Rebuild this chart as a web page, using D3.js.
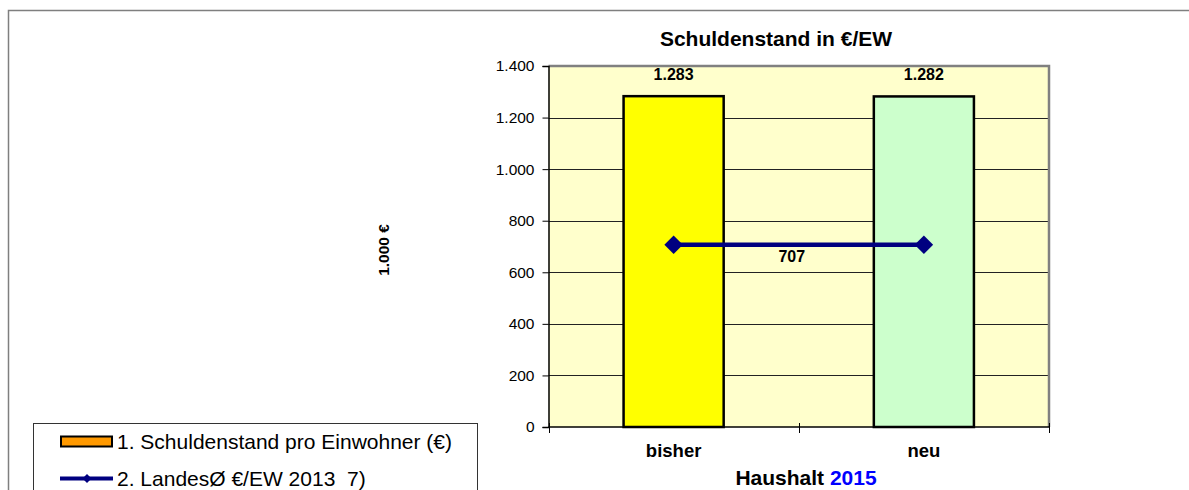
<!DOCTYPE html>
<html>
<head>
<meta charset="utf-8">
<script src="https://cdn.jsdelivr.net/npm/d3@7"></script>
<style>
html,body{margin:0;padding:0;background:#fff;}
svg{display:block;font-family:"Liberation Sans",Arial,sans-serif;}
text{white-space:pre;}
</style>
</head>
<body>
<svg id="chart" width="1189" height="490"></svg>
<script>
const categories = ["bisher", "neu"];
const debtPerCapita = [1283, 1282];
const stateAverage = [707, 707];
const yTickValues = [0, 200, 400, 600, 800, 1000, 1200, 1400];
const barColors = ["#FFFF00", "#CCFFCC"];
const chartTitle = "Schuldenstand in €/EW";
const yAxisTitle = "1.000 €";
const xAxisTitle = "Haushalt";
const xAxisYear = "2015";
const legendLabels = ["1. Schuldenstand pro Einwohner (€)", "2. LandesØ €/EW 2013  7)"];

const de = d3.formatLocale({decimal: ",", thousands: ".", grouping: [3], currency: ["", "€"]});
const fmt = de.format(",d");

const svg = d3.select("#chart");
const W = 1189, H = 490;
const plot = {left: 548.5, right: 1049, top: 66, bottom: 427};

// outer frame
svg.append("path")
  .attr("d", `M8.5,${H + 5} L8.5,10.5 L${W + 5},10.5`)
  .attr("fill", "none").attr("stroke", "#7f7f7f").attr("stroke-width", 1.5);

const x = d3.scaleBand().domain(categories).range([plot.left, plot.right]).padding(0);
const y = d3.scaleLinear().domain([0, 1400]).range([plot.bottom, plot.top]);
const barW = x.bandwidth() * 0.4;

// plot background
svg.append("rect")
  .attr("x", plot.left).attr("y", plot.top)
  .attr("width", plot.right - plot.left).attr("height", plot.bottom - plot.top)
  .attr("fill", "#FFFFCC");

// gridlines
svg.append("g").selectAll("line").data(yTickValues.filter(d => d > 0 && d < 1400)).join("line")
  .attr("x1", plot.left).attr("x2", plot.right)
  .attr("y1", d => Math.round(y(d)) + 0.5).attr("y2", d => Math.round(y(d)) + 0.5)
  .attr("stroke", "#222").attr("stroke-width", 1);

// plot border top/right
svg.append("path")
  .attr("d", `M${plot.left},${plot.top} L${plot.right},${plot.top} L${plot.right},${plot.bottom}`)
  .attr("fill", "none").attr("stroke", "#808080").attr("stroke-width", 2.5);

// bars
svg.append("g").selectAll("rect").data(categories).join("rect")
  .attr("x", d => x(d) + (x.bandwidth() - barW) / 2)
  .attr("y", (d, i) => y(debtPerCapita[i]))
  .attr("width", barW)
  .attr("height", (d, i) => y(0) - y(debtPerCapita[i]))
  .attr("fill", (d, i) => barColors[i])
  .attr("stroke", "#000").attr("stroke-width", 2.5);

// bar labels
svg.append("g").selectAll("text").data(categories).join("text")
  .attr("x", d => x(d) + x.bandwidth() / 2)
  .attr("y", (d, i) => y(debtPerCapita[i]) - 16)
  .attr("text-anchor", "middle")
  .attr("font-size", "16px").attr("font-weight", "bold")
  .text((d, i) => fmt(debtPerCapita[i]));

// y axis
const yAxis = d3.axisLeft(y).tickValues(yTickValues).tickSize(6).tickPadding(8)
  .tickFormat(d => fmt(d));
const gy = svg.append("g").attr("transform", `translate(${plot.left},0)`).call(yAxis);
gy.select(".domain").attr("stroke", "#000").attr("stroke-width", 1.5);
gy.selectAll(".tick line").attr("stroke", "#000");
gy.selectAll(".tick text").attr("font-size", "15.5px").attr("fill", "#000")
  .attr("font-family", "'Liberation Sans',Arial,sans-serif");

// x axis
const xBoundary = d3.scaleOrdinal().domain(["a", "b", "c"]).range([plot.left, plot.left + x.bandwidth(), plot.right]);
const gx = svg.append("g").attr("transform", `translate(0,${plot.bottom})`);
gx.append("line").attr("x1", plot.left).attr("x2", plot.right)
  .attr("stroke", "#000").attr("stroke-width", 1.5);
gx.selectAll("line.tk").data(xBoundary.domain()).join("line").attr("class", "tk")
  .attr("x1", d => Math.round(xBoundary(d)) + 0.5).attr("x2", d => Math.round(xBoundary(d)) + 0.5)
  .attr("y1", -4).attr("y2", 6).attr("stroke", "#000");
gx.selectAll("text").data(categories).join("text")
  .attr("x", d => x(d) + x.bandwidth() / 2).attr("y", 30)
  .attr("text-anchor", "middle").attr("font-size", "18.5px").attr("font-weight", "bold")
  .text(d => d);

// line series
const lineGen = d3.line().x((d, i) => x(categories[i]) + x.bandwidth() / 2).y(d => y(d));
svg.append("path").datum(stateAverage).attr("d", lineGen)
  .attr("fill", "none").attr("stroke", "#000080").attr("stroke-width", 4.5);
svg.append("g").selectAll("path").data(stateAverage).join("path")
  .attr("transform", (d, i) => `translate(${x(categories[i]) + x.bandwidth() / 2},${y(d)}) rotate(45)`)
  .attr("d", d3.symbol().type(d3.symbolSquare).size(170))
  .attr("fill", "#000080");
svg.append("text")
  .attr("x", (x(categories[0]) + x(categories[1]) + x.bandwidth()) / 2 - 7)
  .attr("y", y(stateAverage[0]) + 17)
  .attr("text-anchor", "middle").attr("font-size", "16px").attr("font-weight", "bold")
  .text(fmt(stateAverage[0]));

// titles
svg.append("text").attr("x", 776).attr("y", 46).attr("text-anchor", "middle")
  .attr("font-size", "21px").attr("font-weight", "bold").text(chartTitle);
svg.append("text").attr("transform", "translate(389,250) rotate(-90)").attr("text-anchor", "middle")
  .attr("font-size", "15.5px").attr("font-weight", "bold").text(yAxisTitle);
const xt = svg.append("text").attr("x", 806).attr("y", 485).attr("text-anchor", "middle")
  .attr("font-size", "21px").attr("font-weight", "bold");
xt.append("tspan").text(xAxisTitle + " ");
xt.append("tspan").attr("fill", "#0000FF").text(xAxisYear);

// legend
const lg = svg.append("g");
lg.append("rect").attr("x", 33.5).attr("y", 423.5).attr("width", 444).attr("height", 80)
  .attr("fill", "#fff").attr("stroke", "#333").attr("stroke-width", 1);
lg.append("rect").attr("x", 61).attr("y", 436.5).attr("width", 51).attr("height", 10)
  .attr("fill", "#FF9900").attr("stroke", "#000").attr("stroke-width", 2);
lg.append("line").attr("x1", 60).attr("x2", 113).attr("y1", 478.5).attr("y2", 478.5)
  .attr("stroke", "#000080").attr("stroke-width", 4);
lg.append("path").attr("transform", "translate(87,478.5) rotate(45)")
  .attr("d", d3.symbol().type(d3.symbolSquare).size(40)).attr("fill", "#000080");
lg.selectAll("text.lt").data(legendLabels).join("text").attr("class", "lt")
  .attr("x", 117).attr("y", (d, i) => 449 + i * 37)
  .attr("font-size", "21px").text(d => d);
</script>
</body>
</html>
